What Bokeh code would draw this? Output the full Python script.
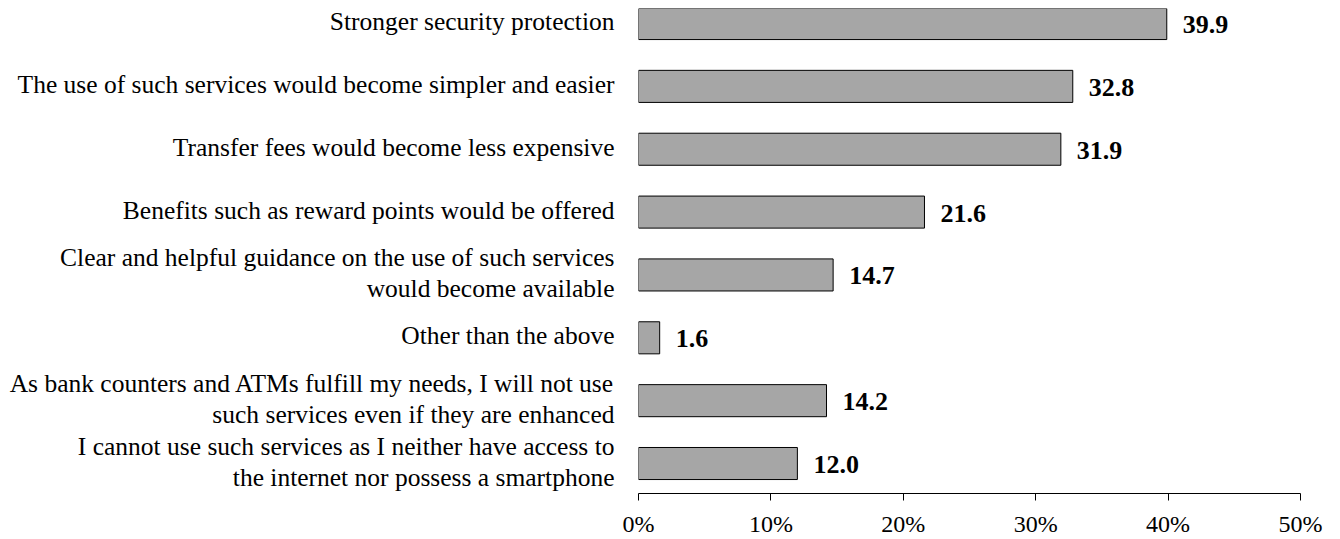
from bokeh.plotting import figure
from bokeh.models import FixedTicker, PrintfTickFormatter, ColumnDataSource, Range1d
from bokeh.core.properties import value
from bokeh.embed import file_html
from bokeh.resources import INLINE

categories = [
    "Stronger security protection",
    "The use of such services would become simpler and easier",
    "Transfer fees would become less expensive",
    "Benefits such as reward points would be offered",
    "Clear and helpful guidance on the use of such services\nwould become available",
    "Other than the above",
    "As bank counters and ATMs fulfill my needs, I will not use\nsuch services even if they are enhanced",
    "I cannot use such services as I neither have access to\nthe internet nor possess a smartphone",
]
values = [39.9, 32.8, 31.9, 21.6, 14.7, 1.6, 14.2, 12.0]
x_ticks = [0, 10, 20, 30, 40, 50]

n = len(categories)
positions = [n - i for i in range(n)]
labels = ["%.1f" % v for v in values]

src = ColumnDataSource(dict(y=positions, v=values, lab=labels))

FONT = "Liberation Serif"
Y0, Y1 = 0.523, 8.239
FRAME_H = 485
PX_PER_UNIT = FRAME_H / (Y1 - Y0)

p = figure(
    output_backend="svg", toolbar_location=None,
    frame_width=662, frame_height=FRAME_H,
    min_border_left=638, min_border_right=32, min_border_top=8, min_border_bottom=46,
    x_range=Range1d(0, 50), y_range=Range1d(Y0, Y1),
)
p.outline_line_color = None
p.xgrid.visible = False
p.ygrid.visible = False
p.background_fill_color = "white"
p.border_fill_color = "white"

p.hbar(y="y", left=0, right="v", height=0.51, source=src,
       fill_color="#A6A6A6", line_color="black", line_width=1)

p.text(x="v", y="y", text="lab", source=src, x_offset=16, y_offset=1,
       text_baseline="middle", text_align="left",
       text_font=value(FONT), text_font_style="bold", text_font_size="26px",
       text_color="black")

# x axis
xa = p.xaxis[0]
xa.ticker = FixedTicker(ticks=x_ticks)
xa.formatter = PrintfTickFormatter(format="%d%%")
xa.axis_line_color = "black"
xa.major_tick_line_color = "black"
xa.major_tick_out = 7
xa.major_tick_in = 0
xa.minor_tick_line_color = None
xa.major_label_text_font = FONT
xa.major_label_text_font_size = "24px"
xa.major_label_text_color = "black"
xa.major_label_standoff = 10

# y axis: one tick per text line so that line spacing can be set
LINE_GAP = 31   # px between the lines of a wrapped label
SHIFT = 2       # px, moves text slightly up
line_ticks = []
line_texts = {}
for pos, cat in zip(positions, categories):
    lines = cat.split("\n")
    k = len(lines)
    for j, line in enumerate(lines):
        off_px = ((k - 1) / 2.0 - j) * LINE_GAP + SHIFT
        t = round(pos + off_px / PX_PER_UNIT, 4)
        line_ticks.append(t)
        line_texts[t] = line

ya = p.yaxis[0]
ya.ticker = FixedTicker(ticks=line_ticks)
ya.major_label_overrides = line_texts
ya.axis_line_color = None
ya.major_tick_line_color = None
ya.minor_tick_line_color = None
ya.major_tick_out = 0
ya.major_tick_in = 0
ya.major_label_standoff = 24
ya.major_label_text_font = FONT
ya.major_label_text_font_size = "25.5px"
ya.major_label_text_color = "black"
ya.major_label_text_align = "right"

open("out.html", "w").write(file_html(p, INLINE))
